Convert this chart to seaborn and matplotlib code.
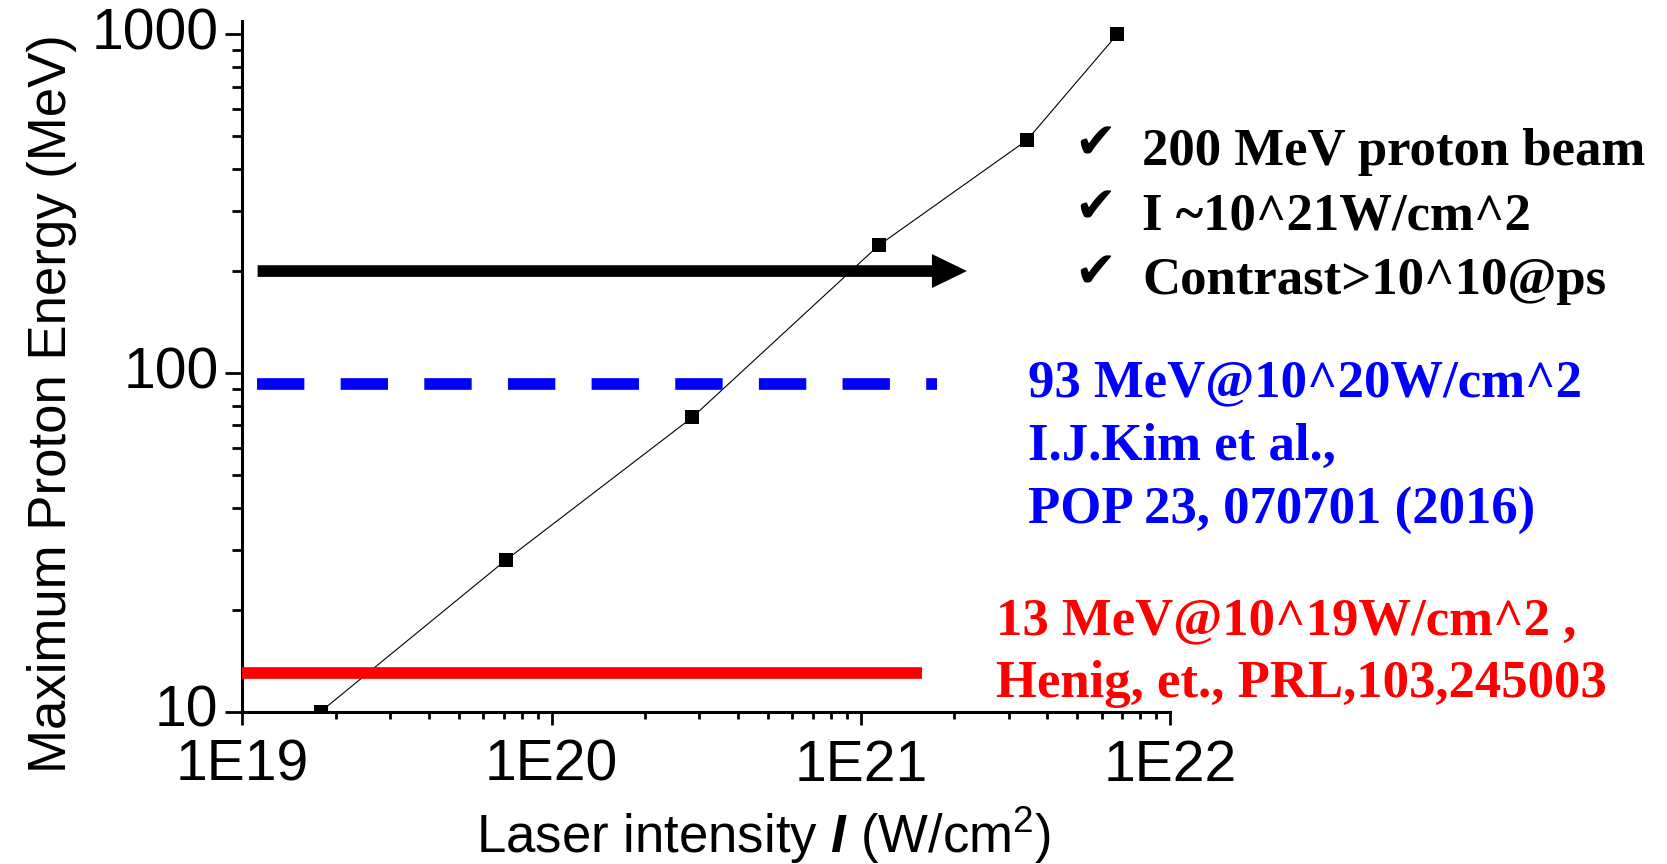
import numpy as np
import pandas as pd
import matplotlib
matplotlib.use("Agg")
import matplotlib.pyplot as plt
from matplotlib.ticker import FixedLocator, LogLocator, FuncFormatter, NullFormatter
import seaborn as sns

# Simulated maximum proton energy versus laser intensity
intensity = [1.79e19, 7.1e19, 2.85e20, 1.14e21, 3.44e21, 6.74e21]
energy = [10, 28, 74, 238, 487, 1000]

# Reference energy levels (MeV) and the intensity span of each level line
target_energy = 200
target_span = [1.12e19, 2.2e21]
kim_energy = 93
kim_span = [1.115e19, 1.76e21]
henig_energy = 13
henig_span = [1.0e19, 1.58e21]

checklist = ["200 MeV proton beam", "I ~10^21W/cm^2", "Contrast>10^10@ps"]
kim_lines = ["93 MeV@10^20W/cm^2", "I.J.Kim et al.,", "POP 23, 070701 (2016)"]
henig_lines = ["13 MeV@10^19W/cm^2 ,", "Henig, et., PRL,103,245003"]

x_ticks = [1e19, 1e20, 1e21, 1e22]
y_ticks = [10, 100, 1000]

sns.set_style("white")
plt.rcParams["font.family"] = ["Liberation Sans", "DejaVu Sans"]
plt.rcParams["text.color"] = "black"
plt.rcParams["axes.labelcolor"] = "black"
plt.rcParams["xtick.color"] = "black"
plt.rcParams["ytick.color"] = "black"
plt.rcParams["mathtext.fontset"] = "custom"
plt.rcParams["mathtext.rm"] = "Liberation Sans"
plt.rcParams["mathtext.it"] = "Liberation Sans:italic"
plt.rcParams["mathtext.bf"] = "Liberation Sans:bold"
plt.rcParams["mathtext.bfit"] = "Liberation Sans:italic:bold"

W, H = 1667, 864
fig = plt.figure(figsize=(W / 100, H / 100), dpi=100)
ax = fig.add_axes([242.4 / W, 1 - 711.7 / H, 927.9 / W, 691 / H])
ax.set_xscale("log")
ax.set_yscale("log")

df = pd.DataFrame({"intensity": intensity, "energy": energy})
sns.lineplot(data=df, x="intensity", y="energy", ax=ax, color="black",
             linewidth=0.8, marker="s", markersize=9.4, markeredgewidth=0,
             sort=False, zorder=2)

# Level lines
ax.plot(henig_span, [henig_energy] * 2, color="#ff0000", lw=8.4,
        solid_capstyle="butt", zorder=3)
ax.plot(kim_span, [kim_energy] * 2, color="#0000ff", lw=8.4,
        ls=(0, (4.06, 3.11)), dash_capstyle="butt", zorder=3)
ax.annotate("", xy=(target_span[1], target_energy),
            xytext=(target_span[0], target_energy),
            arrowprops=dict(arrowstyle="simple,head_length=25.2,head_width=24.5,tail_width=8.4",
                            mutation_scale=1, color="black", lw=0,
                            shrinkA=0, shrinkB=0),
            zorder=3)

ax.set_xlim(1e19, 1e22)
ax.set_ylim(10, 1097)

ax.xaxis.set_major_locator(FixedLocator(x_ticks))
ax.xaxis.set_minor_locator(LogLocator(base=10, subs=np.arange(2, 10)))
ax.xaxis.set_major_formatter(FuncFormatter(lambda v, p: f"1E{int(round(np.log10(v)))}"))
ax.xaxis.set_minor_formatter(NullFormatter())
ax.yaxis.set_major_locator(FixedLocator(y_ticks))
ax.yaxis.set_minor_locator(LogLocator(base=10, subs=np.arange(2, 10)))
ax.yaxis.set_major_formatter(FuncFormatter(lambda v, p: f"{v:g}"))
ax.yaxis.set_minor_formatter(NullFormatter())

sns.despine(ax=ax)
for side in ("left", "bottom"):
    ax.spines[side].set_linewidth(2.2)
    ax.spines[side].set_color("black")

ax.tick_params(axis="x", which="both", bottom=True, top=False)
ax.tick_params(axis="y", which="both", left=True, right=False)
ax.tick_params(axis="x", which="major", direction="out", length=9.5, width=2,
               labelsize=41, pad=10, color="black", labelcolor="black")
ax.tick_params(axis="x", which="minor", direction="out", length=5, width=2, color="black")
ax.tick_params(axis="y", which="major", direction="out", length=12.2, width=2,
               labelsize=41, pad=5, color="black", labelcolor="black")
ax.tick_params(axis="y", which="minor", direction="out", length=7, width=2, color="black")
for lab in ax.yaxis.get_majorticklabels():
    lab.set_va("center")

ax.set_xlabel(r"Laser intensity $\mathbfit{I}$ (W/cm$^{2}$)", fontsize=38, color="black")
ax.xaxis.label.set_va("baseline")
ax.xaxis.set_label_coords(0.562, (711.7 - 853) / 691)
ax.set_ylabel("Maximum Proton Energy (MeV)", fontsize=38, color="black")
ax.yaxis.set_label_coords((77 - 242.4) / 927.9, 0.4453)

def put(px, py, s, **kw):
    fig.text(px / W, 1 - py / H, s, va="baseline", ha="left", **kw)

serif = dict(family="Liberation Serif", weight="bold", fontsize=38)

for i, line in enumerate(checklist):
    base = 165 + 64.5 * i
    put(1074, base - 7, "\u2714", family="DejaVu Sans", fontsize=36, color="black")
    put(1142, base, line, color="black", **serif)

for i, line in enumerate(kim_lines):
    put(1028, 396 + 63.7 * i, line, color="#0000ff", **serif)

for i, line in enumerate(henig_lines):
    put(996, 634 + 62.5 * i, line, color="#ff0000", **serif)

fig.savefig("out.png", dpi=100)
